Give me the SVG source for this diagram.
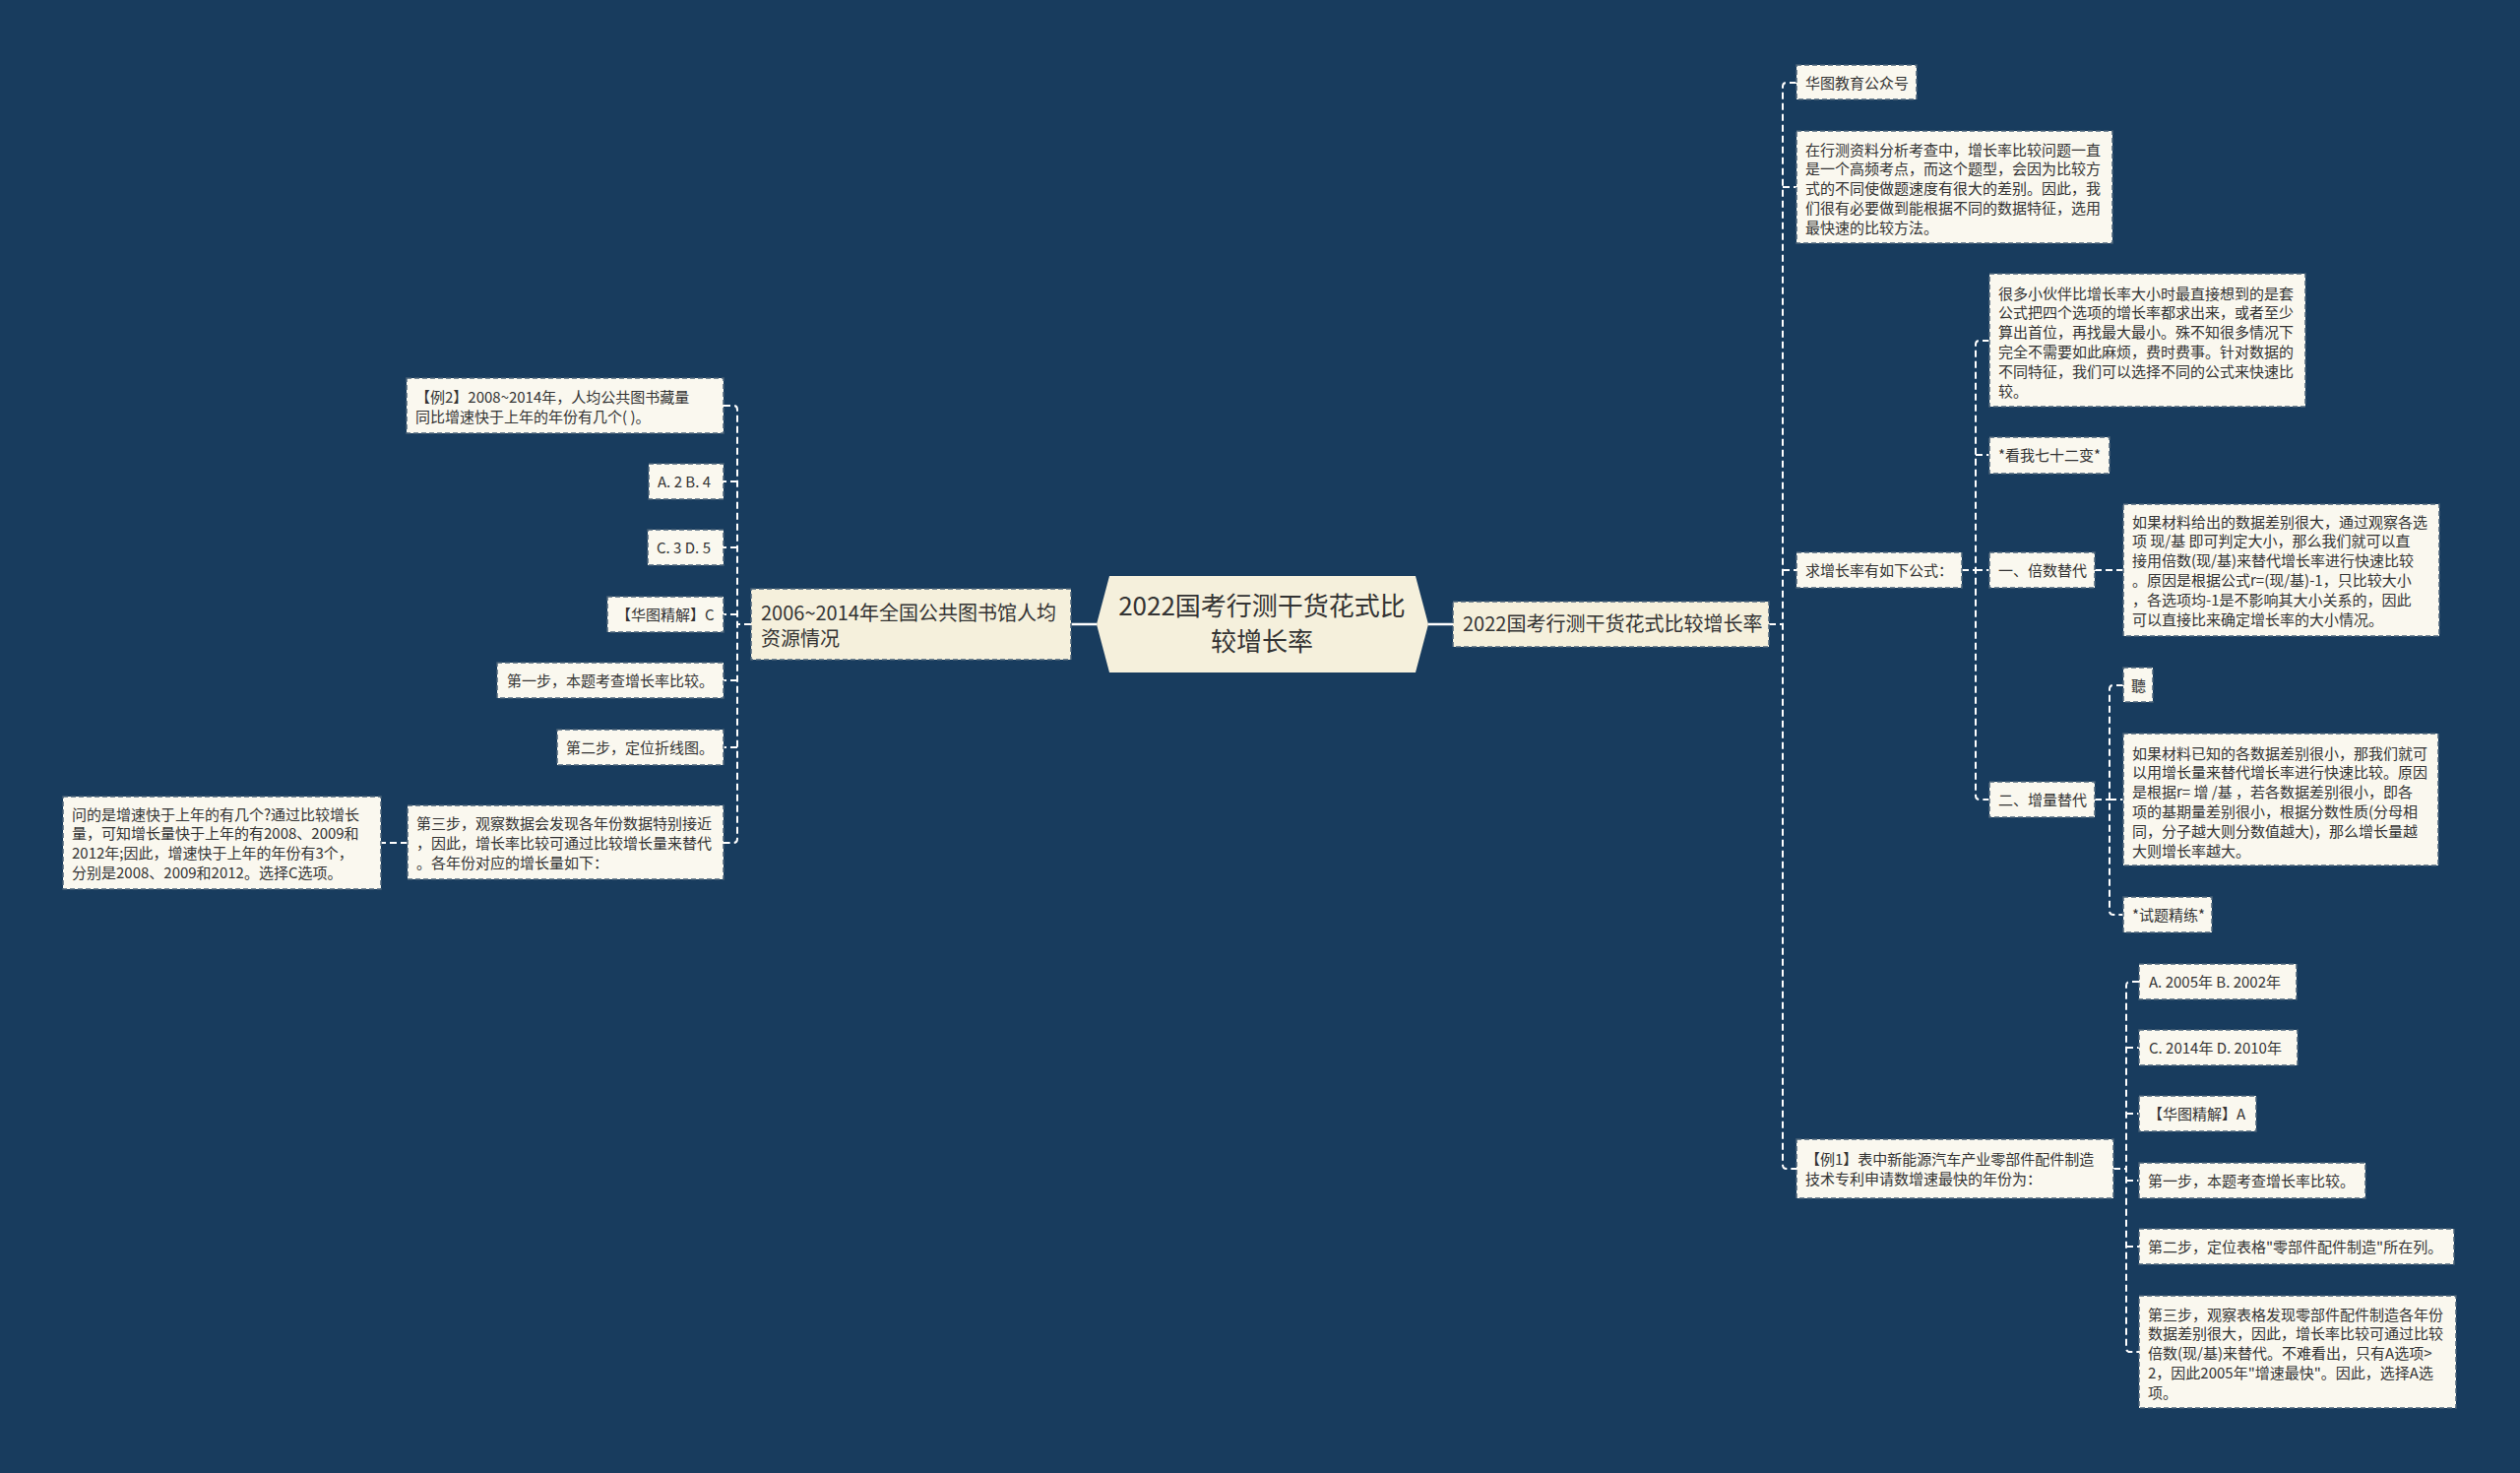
<svg xmlns="http://www.w3.org/2000/svg" width="2560" height="1496" viewBox="0 0 2560 1496">
<style>
.bg{fill:#183c5e}
.n1{fill:#f5f0dc;stroke:#4a6278;stroke-width:1.5;stroke-dasharray:5 3}
.n2{fill:#faf8ef;stroke:#4a6278;stroke-width:1.5;stroke-dasharray:5 3}
.root{fill:#f5f0dc}
.t{font-family:"Noto Sans CJK SC","Microsoft YaHei",sans-serif;fill:#333333}
.s15{font-size:15px}
.s20{font-size:20px}
.s26{font-size:26px}
.c{fill:none;stroke:#ffffff;stroke-width:2;stroke-dasharray:7 4}
.solid{fill:none;stroke:#ffffff;stroke-width:2.5}
</style>
<rect class="bg" x="0" y="0" width="2560" height="1496"/>

<g id="connectors">
  <path class="solid" d="M1114 634 H1088"/>
  <path class="solid" d="M1451 634 H1476"/>
  <path class="c" d="M1797 634 H1811"/>
  <path class="c" d="M1825 84 H1815 Q1811 84 1811 88 V1183 Q1811 1187 1815 1187 H1825"/>
  <path class="c" d="M1811 190 H1825"/>
  <path class="c" d="M1811 579 H1825"/>
  <path class="c" d="M1993 579 H2007"/>
  <path class="c" d="M2021 346 H2011 Q2007 346 2007 350 V808 Q2007 812 2011 812 H2021"/>
  <path class="c" d="M2007 462 H2021"/>
  <path class="c" d="M2007 579 H2021"/>
  <path class="c" d="M2128 579 H2157"/>
  <path class="c" d="M2128 812 H2143"/>
  <path class="c" d="M2157 696 H2147 Q2143 696 2143 700 V925 Q2143 929 2147 929 H2157"/>
  <path class="c" d="M2143 812 H2157"/>
  <path class="c" d="M2147 1187 H2160"/>
  <path class="c" d="M2173 997 H2164 Q2160 997 2160 1001 V1369 Q2160 1373 2164 1373 H2173"/>
  <path class="c" d="M2160 1064 H2173"/>
  <path class="c" d="M2160 1131 H2173"/>
  <path class="c" d="M2160 1199 H2173"/>
  <path class="c" d="M2160 1266 H2173"/>
  <path class="c" d="M763 634 H749"/>
  <path class="c" d="M735 412 H745 Q749 412 749 416 V852 Q749 856 745 856 H735"/>
  <path class="c" d="M749 489 H735"/>
  <path class="c" d="M749 556 H735"/>
  <path class="c" d="M749 624 H735"/>
  <path class="c" d="M749 691 H735"/>
  <path class="c" d="M749 759 H735"/>
  <path class="c" d="M414 856 H387"/>
</g>

<g id="root">
  <polygon class="root" points="1114,634 1127,585 1438,585 1451,634 1438,683 1127,683"/>
  <text class="t s26" text-anchor="middle" x="1282" y="625">2022国考行测干货花式比</text>
  <text class="t s26" text-anchor="middle" x="1282" y="661">较增长率</text>
</g>

<g id="left-l1">
  <rect class="n1" x="763" y="598" width="325" height="72"/>
  <text class="t s20"><tspan x="773" y="629.5">2006~2014年全国公共图书馆人均</tspan><tspan x="773" y="655.5">资源情况</tspan></text>
</g>

<g id="right-l1">
  <rect class="n1" x="1476" y="611" width="321" height="46"/>
  <text class="t s20" x="1486" y="641">2022国考行测干货花式比较增长率</text>
</g>

<g id="huatu-gzh">
  <rect class="n2" x="1825" y="66" width="122" height="35"/>
  <text class="t s15" x="1834" y="89.5">华图教育公众号</text>
</g>

<g id="intro">
  <rect class="n2" x="1825" y="133" width="321" height="114"/>
  <text class="t s15"><tspan x="1834" y="157.5">在行测资料分析考查中，增长率比较问题一直</tspan><tspan x="1834" y="177.3">是一个高频考点，而这个题型，会因为比较方</tspan><tspan x="1834" y="197">式的不同使做题速度有很大的差别。因此，我</tspan><tspan x="1834" y="216.8">们很有必要做到能根据不同的数据特征，选用</tspan><tspan x="1834" y="236.5">最快速的比较方法。</tspan></text>
</g>

<g id="formula">
  <rect class="n2" x="1825" y="561" width="168" height="36"/>
  <text class="t s15" x="1834" y="584.5">求增长率有如下公式：</text>
</g>

<g id="many">
  <rect class="n2" x="2021" y="278" width="321" height="135"/>
  <text class="t s15"><tspan x="2030" y="303.5">很多小伙伴比增长率大小时最直接想到的是套</tspan><tspan x="2030" y="323.3">公式把四个选项的增长率都求出来，或者至少</tspan><tspan x="2030" y="343.1">算出首位，再找最大最小。殊不知很多情况下</tspan><tspan x="2030" y="362.9">完全不需要如此麻烦，费时费事。针对数据的</tspan><tspan x="2030" y="382.7">不同特征，我们可以选择不同的公式来快速比</tspan><tspan x="2030" y="402.5">较。</tspan></text>
</g>

<g id="kanwo">
  <rect class="n2" x="2021" y="444" width="122" height="37"/>
  <text class="t s15" x="2030" y="468">*看我七十二变*</text>
</g>

<g id="beishu">
  <rect class="n2" x="2021" y="561" width="107" height="36"/>
  <text class="t s15" x="2030" y="584.5">一、倍数替代</text>
</g>

<g id="beishu-text">
  <rect class="n2" x="2157" y="512" width="321" height="134"/>
  <text class="t s15"><tspan x="2166" y="535.5">如果材料给出的数据差别很大，通过观察各选</tspan><tspan x="2166" y="555.3">项 现/基 即可判定大小，那么我们就可以直</tspan><tspan x="2166" y="575.1">接用倍数(现/基)来替代增长率进行快速比较</tspan><tspan x="2166" y="594.9">。原因是根据公式r=(现/基)-1，只比较大小</tspan><tspan x="2166" y="614.7">，各选项均-1是不影响其大小关系的，因此</tspan><tspan x="2166" y="634.5">可以直接比来确定增长率的大小情况。</tspan></text>
</g>

<g id="zengliang">
  <rect class="n2" x="2021" y="794" width="107" height="36"/>
  <text class="t s15" x="2030" y="817.5">二、增量替代</text>
</g>

<g id="ting">
  <rect class="n2" x="2157" y="678" width="30" height="35"/>
  <text class="t s15" x="2165" y="701.5">聽</text>
</g>

<g id="zengliang-text">
  <rect class="n2" x="2157" y="745" width="320" height="134"/>
  <text class="t s15"><tspan x="2166" y="770.5">如果材料已知的各数据差别很小，那我们就可</tspan><tspan x="2166" y="790.3">以用增长量来替代增长率进行快速比较。原因</tspan><tspan x="2166" y="810.1">是根据r=  增 /基 ，若各数据差别很小，即各</tspan><tspan x="2166" y="829.9">项的基期量差别很小，根据分数性质(分母相</tspan><tspan x="2166" y="849.7">同，分子越大则分数值越大)，那么增长量越</tspan><tspan x="2166" y="869.5">大则增长率越大。</tspan></text>
</g>

<g id="shiti">
  <rect class="n2" x="2157" y="911" width="90" height="36"/>
  <text class="t s15" x="2166" y="934.5">*试题精练*</text>
</g>

<g id="li1">
  <rect class="n2" x="1825" y="1157" width="322" height="60"/>
  <text class="t s15"><tspan x="1834" y="1182.5">【例1】表中新能源汽车产业零部件配件制造</tspan><tspan x="1834" y="1202.5">技术专利申请数增速最快的年份为：</tspan></text>
</g>

<g id="r-ab">
  <rect class="n2" x="2173" y="979" width="160" height="36"/>
  <text class="t s15" x="2183" y="1002.5">A. 2005年 B. 2002年</text>
</g>
<g id="r-cd">
  <rect class="n2" x="2173" y="1046" width="161" height="36"/>
  <text class="t s15" x="2183" y="1069.5">C. 2014年 D. 2010年</text>
</g>
<g id="r-jj">
  <rect class="n2" x="2173" y="1113" width="119" height="36"/>
  <text class="t s15" x="2182" y="1136.5">【华图精解】A</text>
</g>
<g id="r-s1">
  <rect class="n2" x="2173" y="1181" width="230" height="36"/>
  <text class="t s15" x="2182" y="1204.5">第一步，本题考查增长率比较。</text>
</g>
<g id="r-s2">
  <rect class="n2" x="2173" y="1248" width="320" height="36"/>
  <text class="t s15" x="2182" y="1271.5">第二步，定位表格"零部件配件制造"所在列。</text>
</g>
<g id="r-s3">
  <rect class="n2" x="2173" y="1316" width="322" height="114"/>
  <text class="t s15"><tspan x="2182" y="1340.5">第三步，观察表格发现零部件配件制造各年份</tspan><tspan x="2182" y="1360.3">数据差别很大，因此，增长率比较可通过比较</tspan><tspan x="2182" y="1380.1">倍数(现/基)来替代。不难看出，只有A选项&gt;</tspan><tspan x="2182" y="1399.9">2，因此2005年"增速最快"。因此，选择A选</tspan><tspan x="2182" y="1419.7">项。</tspan></text>
</g>

<g id="li2">
  <rect class="n2" x="413" y="384" width="322" height="56"/>
  <text class="t s15"><tspan x="422" y="408.5">【例2】2008~2014年，人均公共图书藏量</tspan><tspan x="422" y="428.5">同比增速快于上年的年份有几个( )。</tspan></text>
</g>
<g id="l-ab">
  <rect class="n2" x="659" y="471" width="76" height="36"/>
  <text class="t s15" x="668" y="494.5">A. 2 B. 4</text>
</g>
<g id="l-cd">
  <rect class="n2" x="658" y="538" width="77" height="36"/>
  <text class="t s15" x="667" y="561.5">C. 3 D. 5</text>
</g>
<g id="l-jj">
  <rect class="n2" x="617" y="606" width="118" height="36"/>
  <text class="t s15" x="626" y="629.5">【华图精解】C</text>
</g>
<g id="l-s1">
  <rect class="n2" x="505" y="673" width="230" height="36"/>
  <text class="t s15" x="515" y="696.5">第一步，本题考查增长率比较。</text>
</g>
<g id="l-s2">
  <rect class="n2" x="566" y="741" width="169" height="36"/>
  <text class="t s15" x="575" y="764.5">第二步，定位折线图。</text>
</g>
<g id="l-s3">
  <rect class="n2" x="414" y="818" width="321" height="75"/>
  <text class="t s15"><tspan x="423" y="842">第三步，观察数据会发现各年份数据特别接近</tspan><tspan x="423" y="861.8">，因此，增长率比较可通过比较增长量来替代</tspan><tspan x="423" y="881.6">。各年份对应的增长量如下：</tspan></text>
</g>
<g id="l-answer">
  <rect class="n2" x="64" y="809" width="323" height="94"/>
  <text class="t s15"><tspan x="73" y="832.5">问的是增速快于上年的有几个?通过比较增长</tspan><tspan x="73" y="852.3">量，可知增长量快于上年的有2008、2009和</tspan><tspan x="73" y="872.1">2012年;因此，增速快于上年的年份有3个，</tspan><tspan x="73" y="891.9">分别是2008、2009和2012。选择C选项。</tspan></text>
</g>
</svg>
